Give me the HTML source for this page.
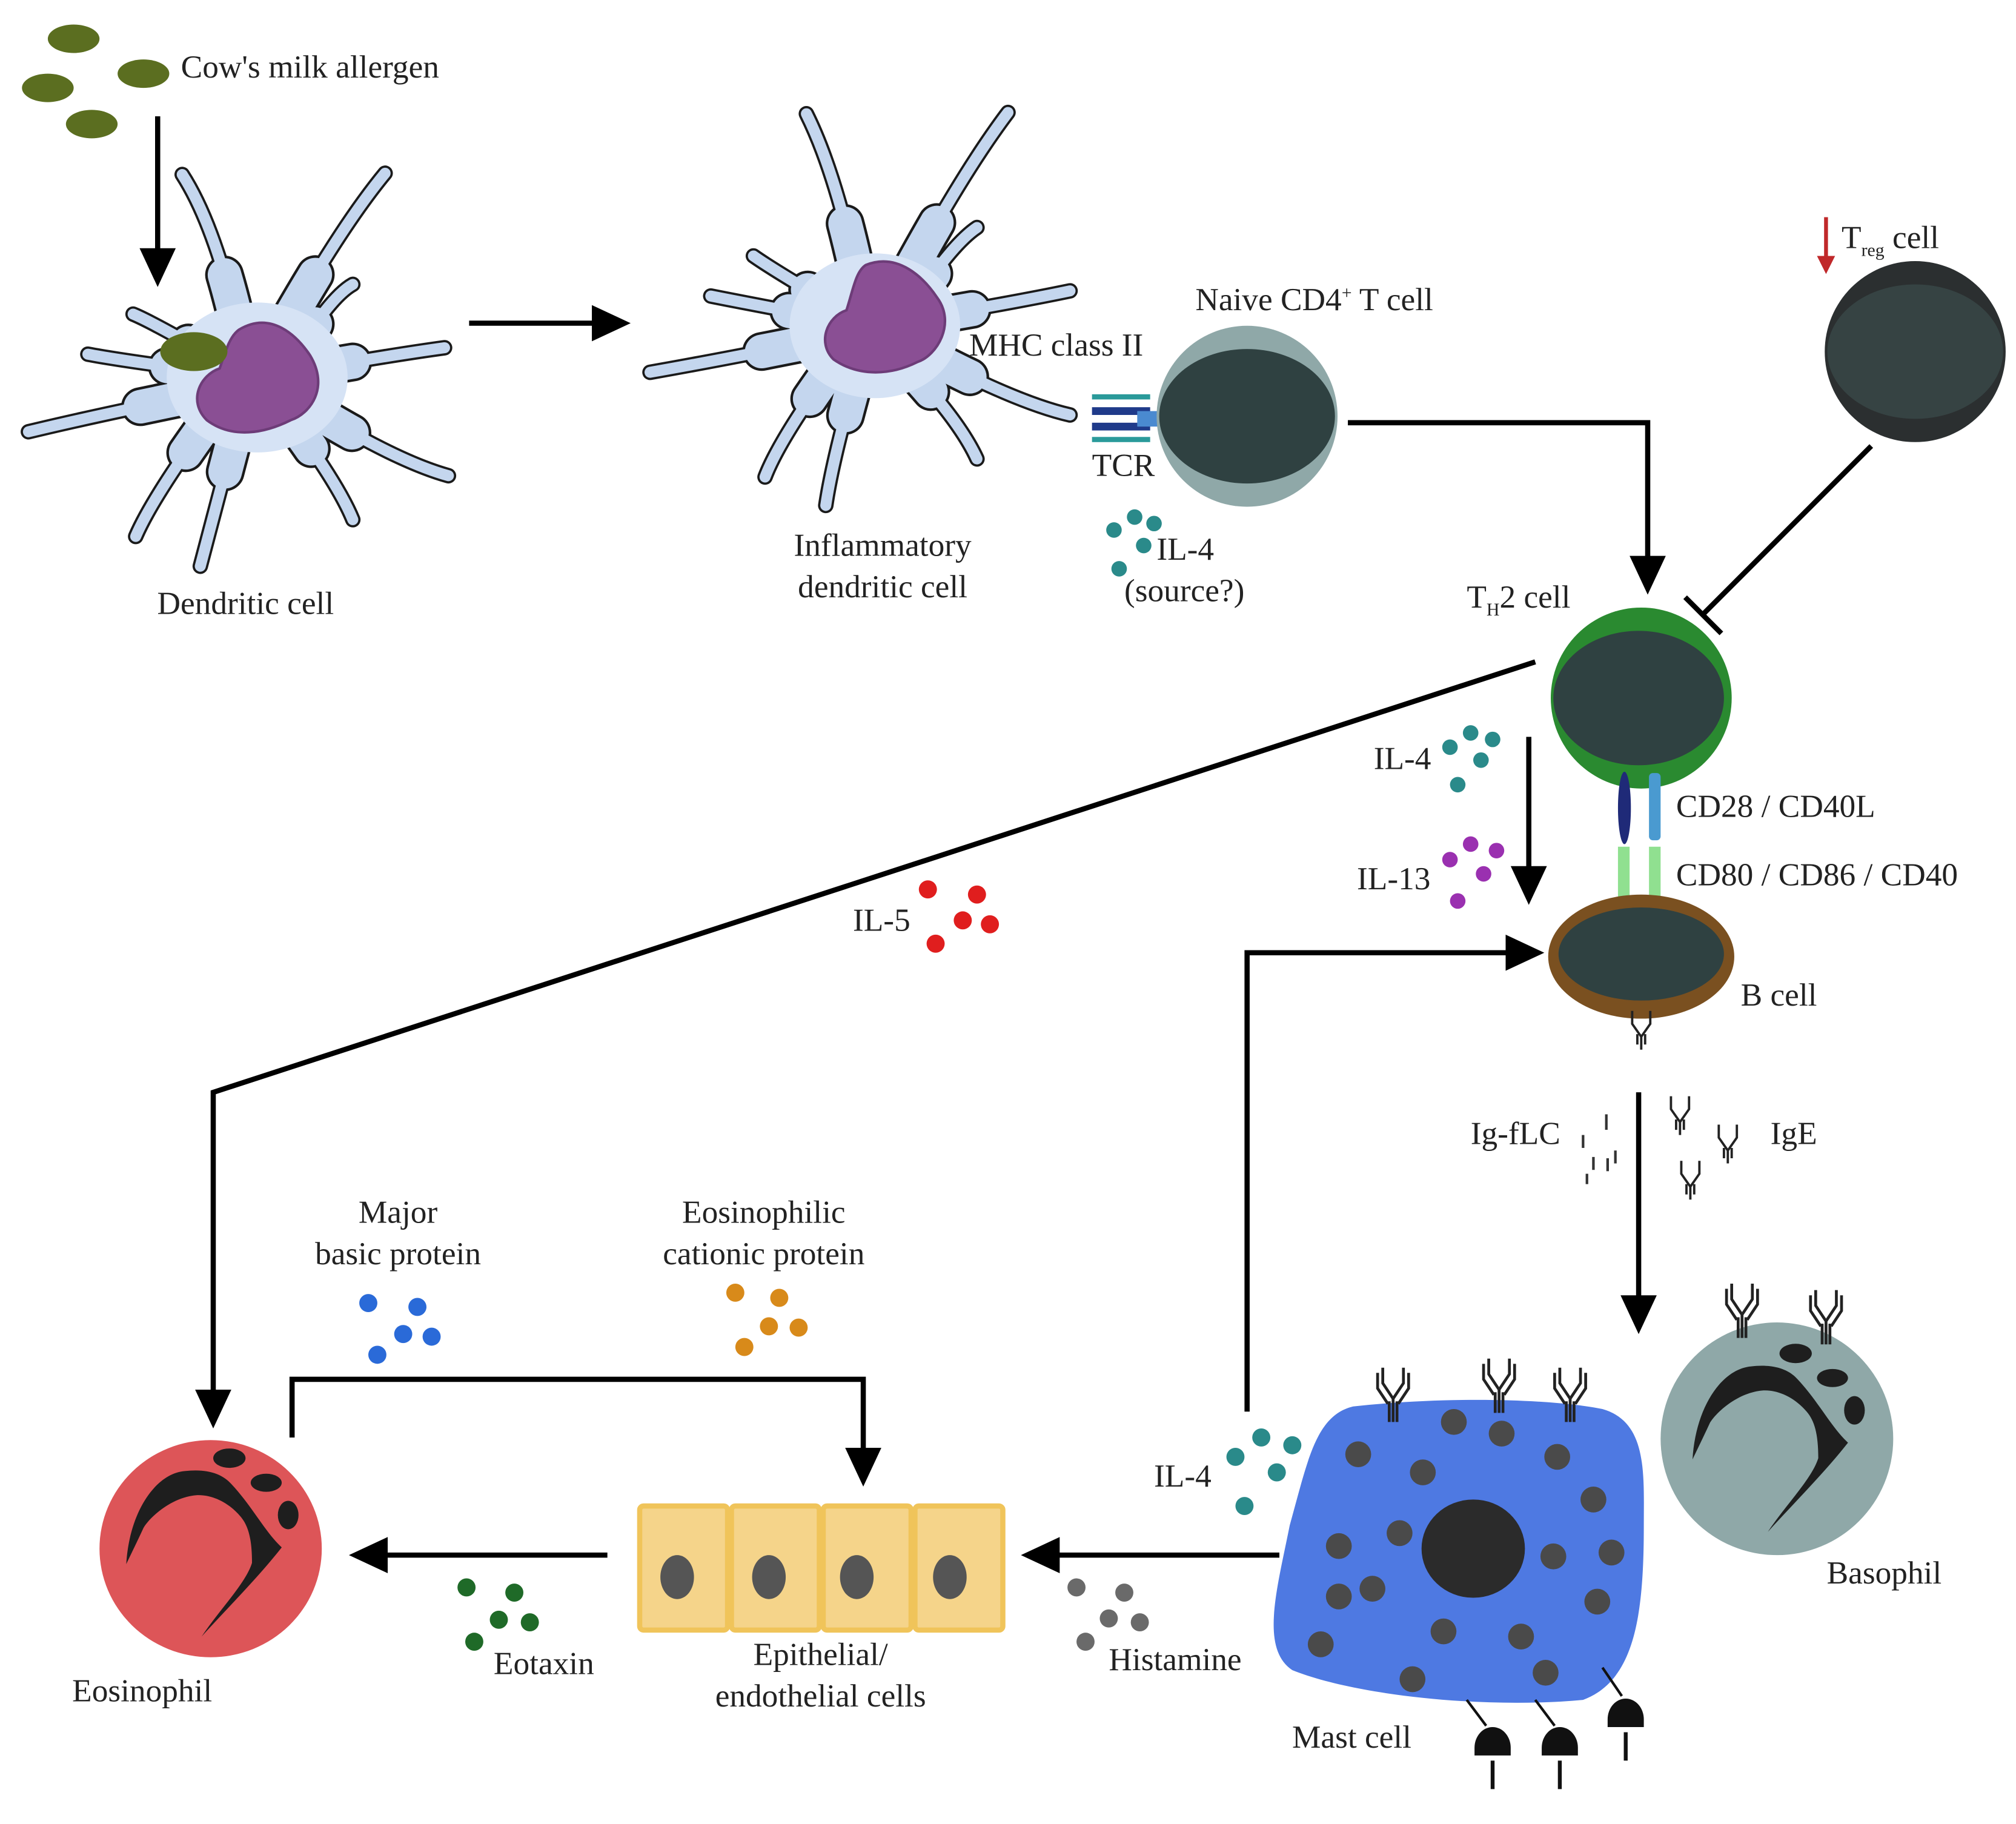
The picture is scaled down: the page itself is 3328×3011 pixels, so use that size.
<!DOCTYPE html>
<html><head><meta charset="utf-8"><style>
html,body{margin:0;padding:0;background:#fff}
svg{display:block}
text{font-family:"Liberation Serif",serif;font-size:25px;fill:#222}
</style></head><body>
<svg width="3328" height="3011" viewBox="0 0 1560 1411" preserveAspectRatio="none" xmlns="http://www.w3.org/2000/svg">
<defs>
<marker id="ah" markerWidth="8" markerHeight="8" refX="5" refY="4" orient="auto" markerUnits="strokeWidth">
<path d="M0,0.5 L7.5,4 L0,7.5 Z" fill="#000"/></marker>
<g id="ab" fill="none" stroke="#222" stroke-width="2.2">
<path d="M0,0 L0,-18 M0,-18 L-8,-30 L-8,-42 M0,-18 L8,-30 L8,-42 M-4,-14 L-12,-26 L-12,-38 M4,-14 L12,-26 L12,-38 M-3,0 L-3,-16 M3,0 L3,-16"/></g>
<g id="ys" fill="none" stroke="#222" stroke-width="1.8"><path d="M0,0 L0,-10 L-7,-20 L-7,-30 M0,-10 L7,-20 L7,-30 M-3,-4 L-3,-12 M3,-4 L3,-12"/></g>
<g id="rc"><path d="M-14,0 A14,16 0 0 1 14,0 L14,6 L-14,6 Z" fill="#111"/><line x1="0" y1="10" x2="0" y2="32" stroke="#111" stroke-width="3"/></g>
<g id="nuc">
<path d="M97.7,1210 C100,1170 120,1140 143,1138 C160,1136 172,1140 179,1148 C195,1165 205,1185 218,1197 C200,1220 175,1245 156,1266 C170,1245 190,1225 195,1209 C195,1190 192,1180 186,1173 C175,1160 160,1155 149,1157 C130,1160 115,1175 111,1182 C105,1195 100,1205 97.7,1210 Z" fill="#1e1e1e"/>
<ellipse cx="177.5" cy="1128" rx="12.5" ry="7.5" fill="#1e1e1e"/>
<ellipse cx="206" cy="1147" rx="12" ry="7" fill="#1e1e1e"/>
<ellipse cx="223" cy="1172" rx="8" ry="11" fill="#1e1e1e"/></g>
<g id="arms1">
<path pathLength="100" d="M190,280 Q170,180 141,135"/><path pathLength="100" d="M205,280 Q260,180 298,134"/><path pathLength="100" d="M225,280 Q255,230 273,220"/><path pathLength="100" d="M215,290 Q300,275 344,269"/><path pathLength="100" d="M215,300 Q300,355 347,368"/><path pathLength="100" d="M210,305 Q260,370 273,402"/><path pathLength="100" d="M190,305 Q165,400 155,438"/><path pathLength="100" d="M180,300 Q120,380 105,415"/><path pathLength="100" d="M180,300 Q80,320 22,334"/><path pathLength="100" d="M180,290 Q100,280 68,274"/><path pathLength="100" d="M180,285 Q120,250 103,243"/></g>
<g id="arms2">
<path pathLength="100" d="M670,245 Q650,140 624,88"/><path pathLength="100" d="M685,245 Q740,140 780,87"/><path pathLength="100" d="M700,245 Q735,190 756,176"/><path pathLength="100" d="M690,250 Q780,235 828,225"/><path pathLength="100" d="M690,260 Q780,310 828,321"/><path pathLength="100" d="M685,265 Q740,320 756,355"/><path pathLength="100" d="M670,265 Q645,350 639,391"/><path pathLength="100" d="M660,262 Q605,335 592,369"/><path pathLength="100" d="M660,258 Q560,278 503,288"/><path pathLength="100" d="M660,250 Q580,235 550,229"/><path pathLength="100" d="M660,245 Q600,210 583,198"/></g>
</defs>

<!-- allergens -->
<g fill="#5b6e20">
<ellipse cx="57" cy="30" rx="20" ry="11"/><ellipse cx="111" cy="57" rx="20" ry="11"/>
<ellipse cx="37" cy="68" rx="20" ry="11"/><ellipse cx="71" cy="96" rx="20" ry="11"/></g>
<text x="140" y="60">Cow's milk allergen</text>
<line x1="122" y1="90" x2="122" y2="212" stroke="#000" stroke-width="4" marker-end="url(#ah)"/>

<!-- DC1 -->
<g stroke-linecap="round" fill="none">
<use href="#arms1" stroke="#1a1a1a" stroke-width="12"/>
<use href="#arms1" stroke="#1a1a1a" stroke-width="30" stroke-dasharray="45 200"/>
<use href="#arms1" stroke="#c4d6ee" stroke-width="8.5"/>
<use href="#arms1" stroke="#c4d6ee" stroke-width="26" stroke-dasharray="45 200"/>
<ellipse cx="199" cy="292" rx="70" ry="58" fill="#d6e3f5" stroke="none"/></g>
<path d="M185,255 C210,240 230,260 240,275 C255,300 240,320 225,325 C205,335 180,340 160,325 C145,310 155,290 170,285 C175,270 178,260 185,255 Z" fill="#8a4f94" stroke="#6d3c78" stroke-width="2"/>
<ellipse cx="150" cy="272" rx="26" ry="15" fill="#5b6e20"/>
<text x="190" y="475" text-anchor="middle">Dendritic cell</text>
<line x1="363" y1="250" x2="478" y2="250" stroke="#000" stroke-width="4" marker-end="url(#ah)"/>

<!-- DC2 -->
<g stroke-linecap="round" fill="none">
<use href="#arms2" stroke="#1a1a1a" stroke-width="12"/>
<use href="#arms2" stroke="#1a1a1a" stroke-width="30" stroke-dasharray="45 200"/>
<use href="#arms2" stroke="#c4d6ee" stroke-width="8.5"/>
<use href="#arms2" stroke="#c4d6ee" stroke-width="26" stroke-dasharray="45 200"/>
<ellipse cx="677" cy="252" rx="66" ry="56" fill="#d6e3f5" stroke="none"/></g>
<path d="M670,205 C695,195 715,215 725,230 C740,250 725,275 710,280 C690,290 665,292 645,278 C632,265 640,245 655,240 C660,225 662,210 670,205 Z" fill="#8a4f94" stroke="#6d3c78" stroke-width="2"/>
<text x="683" y="430" text-anchor="middle">Inflammatory</text>
<text x="683" y="462" text-anchor="middle">dendritic cell</text>
<text x="750" y="275">MHC class II</text>
<text x="845" y="368">TCR</text>
<g><rect x="845" y="305" width="45" height="4" fill="#2a9a9a"/><rect x="845" y="338" width="45" height="4" fill="#2a9a9a"/>
<rect x="845" y="315" width="45" height="6" fill="#1f3a8a"/><rect x="845" y="327" width="45" height="6" fill="#1f3a8a"/>
<rect x="880" y="318" width="30" height="12" fill="#4a8ad0"/></g>

<!-- Naive T -->
<circle cx="965" cy="322" r="70" fill="#8fa8a8"/>
<ellipse cx="965" cy="322" rx="68" ry="52" fill="#2f4141"/>
<text x="925" y="240">Naive CD4<tspan dy="-9" font-size="14">+</tspan><tspan dy="9"> T cell</tspan></text>
<g fill="#2a8a8a"><circle cx="862" cy="410" r="6"/><circle cx="878" cy="400" r="6"/><circle cx="893" cy="405" r="6"/><circle cx="885" cy="422" r="6"/><circle cx="866" cy="440" r="6"/></g>
<text x="895" y="433">IL-4</text><text x="870" y="465">(source?)</text>
<polyline points="1043,327 1275,327 1275,450" fill="none" stroke="#000" stroke-width="4" marker-end="url(#ah)"/>

<!-- Treg -->
<path d="M1413,168 L1413,200" stroke="#c0282a" stroke-width="3"/><path d="M1406,198 L1420,198 L1413,212 Z" fill="#c0282a"/>
<text x="1425" y="192">T<tspan dy="6" font-size="14">reg</tspan><tspan dy="-6"> cell</tspan></text>
<circle cx="1482" cy="272" r="70" fill="#2b2f30"/>
<ellipse cx="1482" cy="272" rx="68" ry="52" fill="#364343"/>
<line x1="1448" y1="345" x2="1318" y2="475" stroke="#000" stroke-width="4"/>
<line x1="1304" y1="462" x2="1332" y2="490" stroke="#000" stroke-width="4"/>

<!-- TH2 -->
<text x="1135" y="470">T<tspan dy="6" font-size="14">H</tspan><tspan dy="-6">2 cell</tspan></text>
<circle cx="1270" cy="540" r="70" fill="#2a8a30"/>
<ellipse cx="1268" cy="540" rx="66" ry="52" fill="#2f4141"/>
<ellipse cx="1257" cy="625" rx="5" ry="28" fill="#1f2a78"/>
<rect x="1276" y="598" width="9" height="52" rx="3" fill="#4a9ad0"/>
<rect x="1252" y="655" width="9" height="45" fill="#90e090"/><rect x="1276" y="655" width="9" height="45" fill="#90e090"/>
<text x="1297" y="632">CD28 / CD40L</text>
<text x="1297" y="685">CD80 / CD86 / CD40</text>

<!-- B cell -->
<ellipse cx="1270" cy="740" rx="72" ry="48" fill="#7a5020"/>
<ellipse cx="1270" cy="738" rx="64" ry="36" fill="#2f4141"/>
<use href="#ys" x="1270" y="812"/>
<text x="1347" y="778">B cell</text>
<line x1="1183" y1="570" x2="1183" y2="690" stroke="#000" stroke-width="4" marker-end="url(#ah)"/>
<g fill="#2a8a8a"><circle cx="1122" cy="578" r="6"/><circle cx="1138" cy="567" r="6"/><circle cx="1155" cy="572" r="6"/><circle cx="1146" cy="588" r="6"/><circle cx="1128" cy="607" r="6"/></g>
<text x="1063" y="595">IL-4</text>
<g fill="#9a30b0"><circle cx="1122" cy="665" r="6"/><circle cx="1138" cy="653" r="6"/><circle cx="1158" cy="658" r="6"/><circle cx="1148" cy="676" r="6"/><circle cx="1128" cy="697" r="6"/></g>
<text x="1050" y="688">IL-13</text>

<polyline points="1188,512 165,845 165,1095" fill="none" stroke="#000" stroke-width="4" marker-end="url(#ah)"/>
<g fill="#e01e1e"><circle cx="718" cy="688" r="7"/><circle cx="756" cy="692" r="7"/><circle cx="745" cy="712" r="7"/><circle cx="766" cy="715" r="7"/><circle cx="724" cy="730" r="7"/></g>
<text x="660" y="720">IL-5</text>

<polyline points="965,1092 965,737 1185,737" fill="none" stroke="#000" stroke-width="4" marker-end="url(#ah)"/>

<line x1="1268" y1="845" x2="1268" y2="1022" stroke="#000" stroke-width="4" marker-end="url(#ah)"/>
<text x="1138" y="885">Ig-fLC</text><text x="1370" y="885">IgE</text>
<g stroke="#333" stroke-width="2"><line x1="1225" y1="878" x2="1225" y2="888"/><line x1="1243" y1="862" x2="1243" y2="874"/><line x1="1250" y1="890" x2="1250" y2="900"/><line x1="1233" y1="895" x2="1233" y2="905"/><line x1="1228" y1="908" x2="1228" y2="916"/><line x1="1244" y1="896" x2="1244" y2="906"/></g>
<use href="#ys" x="1300" y="878"/><use href="#ys" x="1337" y="900"/><use href="#ys" x="1308" y="928"/>

<!-- Basophil -->
<circle cx="1375" cy="1113" r="90" fill="#8fa8a8"/>
<use href="#nuc" x="1212" y="-81"/>
<use href="#ab" x="1348" y="1035"/><use href="#ab" x="1413" y="1040"/>
<text x="1458" y="1225" text-anchor="middle">Basophil</text>

<!-- Mast cell -->
<path d="M1047,1088 C1120,1080 1200,1082 1240,1090 C1275,1100 1272,1140 1272,1180 C1272,1250 1265,1300 1225,1315 C1150,1322 1050,1312 1000,1292 C975,1275 988,1230 998,1180 C1012,1130 1018,1095 1047,1088 Z" fill="#4e79e2"/>
<ellipse cx="1140" cy="1198" rx="40" ry="38" fill="#2b2b2b"/>
<g fill="#4a4a4a">
<circle cx="1051" cy="1125" r="10"/><circle cx="1101" cy="1139" r="10"/><circle cx="1125" cy="1100" r="10"/><circle cx="1162" cy="1109" r="10"/><circle cx="1205" cy="1127" r="10"/><circle cx="1233" cy="1160" r="10"/><circle cx="1083" cy="1186" r="10"/><circle cx="1036" cy="1196" r="10"/><circle cx="1202" cy="1204" r="10"/><circle cx="1247" cy="1201" r="10"/><circle cx="1036" cy="1235" r="10"/><circle cx="1062" cy="1229" r="10"/><circle cx="1117" cy="1262" r="10"/><circle cx="1177" cy="1266" r="10"/><circle cx="1236" cy="1239" r="10"/><circle cx="1022" cy="1272" r="10"/><circle cx="1093" cy="1299" r="10"/><circle cx="1196" cy="1294" r="10"/></g>
<use href="#ab" x="1078" y="1100"/><use href="#ab" x="1160" y="1093"/><use href="#ab" x="1215" y="1100"/>
<g stroke="#111" stroke-width="2"><line x1="1135" y1="1315" x2="1150" y2="1335"/><line x1="1188" y1="1315" x2="1203" y2="1335"/><line x1="1240" y1="1290" x2="1255" y2="1312"/></g>
<use href="#rc" x="1155" y="1352"/><use href="#rc" x="1207" y="1352"/><use href="#rc" x="1258" y="1330"/>
<text x="1046" y="1352" text-anchor="middle">Mast cell</text>

<line x1="990" y1="1203" x2="800" y2="1203" stroke="#000" stroke-width="4" marker-end="url(#ah)"/>
<g fill="#2a8a8a"><circle cx="956" cy="1127" r="7"/><circle cx="976" cy="1112" r="7"/><circle cx="1000" cy="1118" r="7"/><circle cx="988" cy="1139" r="7"/><circle cx="963" cy="1165" r="7"/></g>
<text x="893" y="1150">IL-4</text>
<g fill="#6a6a6a"><circle cx="833" cy="1228" r="7"/><circle cx="870" cy="1232" r="7"/><circle cx="858" cy="1252" r="7"/><circle cx="882" cy="1255" r="7"/><circle cx="840" cy="1270" r="7"/></g>
<text x="858" y="1292">Histamine</text>

<g fill="#f5d48a" stroke="#f0c45a" stroke-width="4">
<rect x="495" y="1165" width="68" height="96" rx="3"/><rect x="566" y="1165" width="68" height="96" rx="3"/><rect x="637" y="1165" width="68" height="96" rx="3"/><rect x="708" y="1165" width="68" height="96" rx="3"/></g>
<g fill="#555"><ellipse cx="524" cy="1220" rx="13" ry="17"/><ellipse cx="595" cy="1220" rx="13" ry="17"/><ellipse cx="663" cy="1220" rx="13" ry="17"/><ellipse cx="735" cy="1220" rx="13" ry="17"/></g>
<text x="635" y="1288" text-anchor="middle">Epithelial/</text>
<text x="635" y="1320" text-anchor="middle">endothelial cells</text>

<line x1="470" y1="1203" x2="280" y2="1203" stroke="#000" stroke-width="4" marker-end="url(#ah)"/>
<g fill="#1f6a28"><circle cx="361" cy="1228" r="7"/><circle cx="398" cy="1232" r="7"/><circle cx="386" cy="1253" r="7"/><circle cx="410" cy="1255" r="7"/><circle cx="367" cy="1270" r="7"/></g>
<text x="382" y="1295">Eotaxin</text>

<ellipse cx="163" cy="1198" rx="86" ry="84" fill="#dd5558"/>
<use href="#nuc"/>
<text x="110" y="1316" text-anchor="middle">Eosinophil</text>

<polyline points="226,1112 226,1067 668,1067 668,1140" fill="none" stroke="#000" stroke-width="4" marker-end="url(#ah)"/>
<text x="308" y="946" text-anchor="middle">Major</text><text x="308" y="978" text-anchor="middle">basic protein</text>
<g fill="#2a6ad8"><circle cx="285" cy="1008" r="7"/><circle cx="323" cy="1011" r="7"/><circle cx="312" cy="1032" r="7"/><circle cx="334" cy="1034" r="7"/><circle cx="292" cy="1048" r="7"/></g>
<text x="591" y="946" text-anchor="middle">Eosinophilic</text><text x="591" y="978" text-anchor="middle">cationic protein</text>
<g fill="#d88a1a"><circle cx="569" cy="1000" r="7"/><circle cx="603" cy="1004" r="7"/><circle cx="595" cy="1026" r="7"/><circle cx="618" cy="1027" r="7"/><circle cx="576" cy="1042" r="7"/></g>
</svg>
</body></html>
